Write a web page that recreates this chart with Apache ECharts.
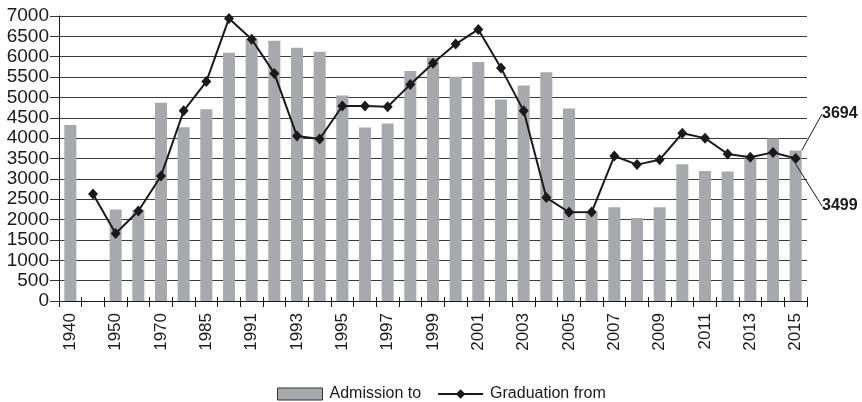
<!DOCTYPE html>
<html>
<head>
<meta charset="utf-8">
<script src="https://cdn.jsdelivr.net/npm/echarts@6/dist/echarts.min.js"></script>
<style>
  html, body { margin: 0; padding: 0; background: #fff; }
  #chart { width: 862px; height: 402px; }
</style>
</head>
<body>
<div id="chart"></div>
<script>
// Years on the category axis
const years = ['1940', '1945', '1950', '1960', '1970', '1980', '1985', '1990', '1991', '1992',
  '1993', '1994', '1995', '1996', '1997', '1998', '1999', '2000', '2001', '2002', '2003',
  '2004', '2005', '2006', '2007', '2008', '2009', '2010', '2011', '2012', '2013', '2014', '2015'];

// Admissions (bars); '-' marks a year with no figure
const admission = [4320, '-', 2250, 2240, 4870, 4270, 4710, 6100, 6450, 6390,
  6220, 6120, 5050, 4260, 4360, 5650, 5980, 5510, 5870, 4950, 5290,
  5620, 4730, 2200, 2300, 2040, 2300, 3360, 3190, 3180, 3500, 3990, 3694];

// Graduations (line)
const graduation = ['-', 2630, 1660, 2210, 3070, 4670, 5390, 6940, 6430, 5590,
  4050, 3980, 4790, 4790, 4770, 5320, 5840, 6310, 6670, 5720, 4670,
  2540, 2180, 2185, 3560, 3350, 3470, 4120, 4000, 3610, 3530, 3650, 3499];

const seriesNames = ['Admission to', 'Graduation from'];

const FONT = '"Liberation Sans", Arial, sans-serif';
const INK = '#1a1a1a';
const lastIdx = years.length - 1;

// Only the final year carries a value callout
function withEndLabel(values) {
  return values.map((v, i) => i === lastIdx
    ? { value: v, label: { show: true }, labelLine: { show: true } }
    : v);
}

const chart = echarts.init(document.getElementById('chart'), null, { renderer: 'canvas' });

chart.setOption({
  animation: false,
  backgroundColor: '#ffffff',
  textStyle: { fontFamily: FONT, color: INK },
  grid: { left: 59, right: 55, top: 16, bottom: 101, containLabel: false },
  legend: {
    left: 277,
    top: 386,
    padding: 0,
    itemWidth: 45,
    itemHeight: 12,
    itemGap: 16,
    textStyle: { fontFamily: FONT, fontSize: 16, color: INK, padding: [0, 0, 0, 2] },
    data: [
      { name: seriesNames[0], icon: 'rect', itemStyle: { color: '#a7a9ac', borderColor: '#333', borderWidth: 1 } },
      { name: seriesNames[1] }
    ]
  },
  xAxis: [
    {
      type: 'category',
      data: years,
      boundaryGap: true,
      axisLine: { show: true, lineStyle: { color: INK, width: 1 } },
      axisTick: { show: true, interval: 0, length: 6, lineStyle: { color: INK } },
      axisLabel: {
        interval: 1,
        rotate: 90,
        margin: 12,
        fontFamily: FONT,
        fontSize: 17,
        color: INK
      },
      splitLine: { show: false }
    },
    {
      // short upward ticks so each boundary tick crosses the axis line
      type: 'category',
      data: years,
      position: 'bottom',
      boundaryGap: true,
      axisLine: { show: false },
      axisTick: { show: true, inside: true, interval: 0, length: 4, lineStyle: { color: INK } },
      axisLabel: { show: false },
      splitLine: { show: false }
    }
  ],
  yAxis: {
    type: 'value',
    min: 0,
    max: 7000,
    interval: 500,
    axisLine: { show: true, lineStyle: { color: INK, width: 1 } },
    axisTick: { show: true, length: 9, lineStyle: { color: '#333' } },
    axisLabel: {
      margin: 10,
      fontFamily: FONT,
      fontSize: 19,
      color: INK,
      formatter: (v) => String(v)
    },
    splitLine: { show: true, lineStyle: { color: '#3a3a3a', width: 1 } }
  },
  series: [
    {
      name: seriesNames[0],
      type: 'bar',
      xAxisIndex: 0,
      data: withEndLabel(admission),
      barWidth: 12,
      itemStyle: { color: '#a7a9ac' },
      label: {
        show: false,
        formatter: '{c}',
        fontFamily: FONT,
        fontSize: 16,
        fontWeight: 'bold',
        color: INK
      },
      labelLine: { show: false, lineStyle: { color: INK, width: 1 } },
      labelLayout: (p) => p.dataIndex === lastIdx
        ? { x: 822, y: 114, align: 'left', verticalAlign: 'middle' }
        : {},
      z: 2
    },
    {
      name: seriesNames[1],
      type: 'line',
      xAxisIndex: 0,
      data: withEndLabel(graduation),
      symbol: 'diamond',
      symbolSize: [10, 11],
      showSymbol: true,
      connectNulls: false,
      lineStyle: { color: INK, width: 2 },
      itemStyle: { color: INK },
      label: {
        show: false,
        formatter: '{c}',
        fontFamily: FONT,
        fontSize: 16,
        fontWeight: 'bold',
        color: INK
      },
      labelLine: { show: false, lineStyle: { color: INK, width: 1 } },
      labelLayout: (p) => p.dataIndex === lastIdx
        ? { x: 822, y: 206, align: 'left', verticalAlign: 'middle' }
        : {},
      z: 5
    }
  ]
});
</script>
</body>
</html>
